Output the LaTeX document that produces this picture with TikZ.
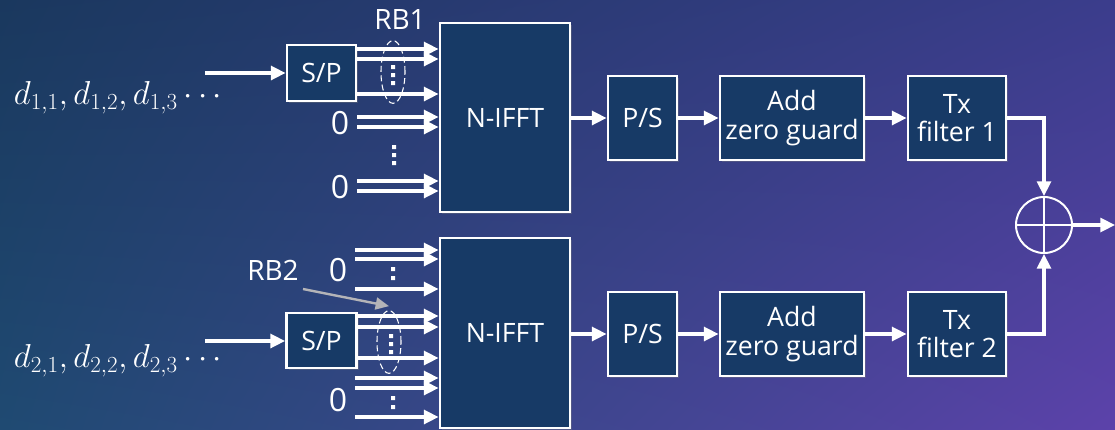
\documentclass[tikz,border=0pt]{standalone}
\usepackage{fontspec}
\setmainfont{Open Sans}
\usetikzlibrary{arrows.meta,shapes.geometric,shadows,shadings}
\definecolor{bgTL}{HTML}{1A385E}
\definecolor{bgTR}{HTML}{3B3D8C}
\definecolor{bgBL}{HTML}{1F4A72}
\definecolor{bgBR}{HTML}{5C42AA}
\definecolor{boxfill}{HTML}{173A66}
\definecolor{rbgray}{HTML}{B4B4B8}
\begin{document}
\begin{tikzpicture}[x=0.75pt,y=-0.75pt,
  blk/.style={draw=white,line width=2.2pt,fill=boxfill,text=white,align=center,
    font=\fontsize{20}{21.5}\selectfont,inner sep=0pt,
    drop shadow={opacity=0.35,shadow xshift=1.5pt,shadow yshift=-1.5pt}},
  arr/.style={draw=white,line width=2.3pt,-{Triangle[length=11pt,width=10.5pt]}},
  lbl/.style={text=white,font=\fontsize{21}{23}\selectfont,inner sep=0pt},
  zlbl/.style={text=white,font=\fontsize{24}{26}\selectfont,inner sep=0pt},
  rbell/.style={draw=white,dashed,dash pattern=on 4.5pt off 2.5pt,line width=0.8pt,ellipse,minimum width=18pt,minimum height=47pt,inner sep=0pt},
  dat/.style={text=white,inner sep=0pt,font=\fontsize{24}{28}\selectfont}
]
\useasboundingbox (0,0) rectangle (1115,429);
\shade[upper left=bgTL,upper right=bgTR,lower left=bgBL,lower right=bgBR] (0,0) rectangle (1115,429);

% ---------- top branch ----------
\node[dat] (d1) at (118,98) {$d_{1,1}, d_{1,2}, d_{1,3}\cdots$};
\coordinate (in1) at (205,73);
\node[blk,minimum width=51.75pt,minimum height=42pt] (sp1) at (321.5,73) {S/P};
\node[blk,minimum width=97.5pt,minimum height=141.75pt] (ifft1) at (505,117.5) {N-IFFT};
\node[blk,minimum width=51.75pt,minimum height=63pt] (ps1) at (642.5,118) {P/S};
\node[blk,minimum width=108pt,minimum height=63pt] (azg1) at (792,118) {Add\\zero guard};
\node[blk,minimum width=73.5pt,minimum height=63pt] (tx1) at (957,118) {Tx\\filter 1};

\node[lbl] (rb1) at (400,20) {RB1};
\node[zlbl] (z1a) at (340,123) {0};
\node[zlbl] (z1b) at (340,187) {0};

\draw[arr] (in1) -- (sp1.west |- in1);
\draw[arr] (sp1.east |- 0,49) -- (ifft1.west |- 0,49);
\draw[arr] (sp1.east |- 0,59) -- (ifft1.west |- 0,59);
\draw[arr] (sp1.east |- 0,94) -- (ifft1.west |- 0,94);
\draw[arr] (z1a.east |- 0,117) ++(8,0) -- (ifft1.west |- 0,117);
\draw[arr] (z1a.east |- 0,127) ++(8,0) -- (ifft1.west |- 0,127);
\draw[arr] (z1b.east |- 0,181) ++(8,0) -- (ifft1.west |- 0,181);
\draw[arr] (z1b.east |- 0,191) ++(8,0) -- (ifft1.west |- 0,191);
\node[rbell] (e1) at (393,72) {};
\fill[white] (391,65) rectangle (395,69) (391,73) rectangle (395,77) (391,81) rectangle (395,85);
\fill[white] (392,145) rectangle (396,149) (392,153) rectangle (396,157) (392,161) rectangle (396,165);

\draw[arr] (ifft1.east |- ps1.west) -- (ps1.west);
\draw[arr] (ps1.east) -- (azg1.west);
\draw[arr] (azg1.east) -- (tx1.west);

% ---------- bottom branch ----------
\node[dat] (d2) at (118,361) {$d_{2,1}, d_{2,2}, d_{2,3}\cdots$};
\coordinate (in2) at (205,341);
\node[blk,minimum width=52.5pt,minimum height=41.25pt] (sp2) at (321.5,340.5) {S/P};
\node[blk,minimum width=97.5pt,minimum height=142.5pt] (ifft2) at (505,333) {N-IFFT};
\node[blk,minimum width=51.75pt,minimum height=63pt] (ps2) at (642.5,334) {P/S};
\node[blk,minimum width=108pt,minimum height=63pt] (azg2) at (792,334) {Add\\zero guard};
\node[blk,minimum width=73.5pt,minimum height=63pt] (tx2) at (957,334) {Tx\\filter 2};

\node[lbl] (rb2) at (273,270) {RB2};
\node[zlbl] (z2a) at (338,270) {0};
\node[zlbl] (z2b) at (338,400) {0};

\draw[arr] (in2) -- (sp2.west |- in2);
\draw[arr] (z2a.east |- 0,250) ++(8,0) -- (ifft2.west |- 0,250);
\draw[arr] (z2a.east |- 0,259) ++(8,0) -- (ifft2.west |- 0,259);
\draw[arr] (z2a.east |- 0,289) ++(8,0) -- (ifft2.west |- 0,289);
\draw[arr] (sp2.east |- 0,316) -- (ifft2.west |- 0,316);
\draw[arr] (sp2.east |- 0,327) -- (ifft2.west |- 0,327);
\draw[arr] (sp2.east |- 0,358) -- (ifft2.west |- 0,358);
\draw[arr] (z2b.east |- 0,378) ++(8,0) -- (ifft2.west |- 0,378);
\draw[arr] (z2b.east |- 0,388) ++(8,0) -- (ifft2.west |- 0,388);
\draw[arr] (z2b.east |- 0,417) ++(8,0) -- (ifft2.west |- 0,417);
\node[rbell] (e2) at (389,342) {};
\fill[white] (389,334) rectangle (393,338) (389,342) rectangle (393,346) (389,350) rectangle (393,354);
\fill[white] (391,267) rectangle (395,271) (391,276) rectangle (395,280);
\fill[white] (391,396) rectangle (395,400) (391,405) rectangle (395,409);

\coordinate (rb2s) at (303,289);
\draw[draw=rbgray,line width=1.8pt,-{Triangle[length=10pt,width=9pt]}] (rb2s) -- ([yshift=3pt]e2.north);

\draw[arr] (ifft2.east |- ps2.west) -- (ps2.west);
\draw[arr] (ps2.east) -- (azg2.west);
\draw[arr] (azg2.east) -- (tx2.west);

% ---------- summation ----------
\node[circle,draw=white,line width=1.5pt,minimum size=42pt,inner sep=0pt] (sum) at (1044,225) {};
\draw[white,line width=1.5pt] (sum.north) -- (sum.south) (sum.west) -- (sum.east);
\draw[arr] (tx1.east) -| (sum.north);
\draw[arr] (tx2.east) -| (sum.south);
\coordinate (out) at (1115,225);
\draw[arr] (sum.east) -- (out);
\end{tikzpicture}
\end{document}
